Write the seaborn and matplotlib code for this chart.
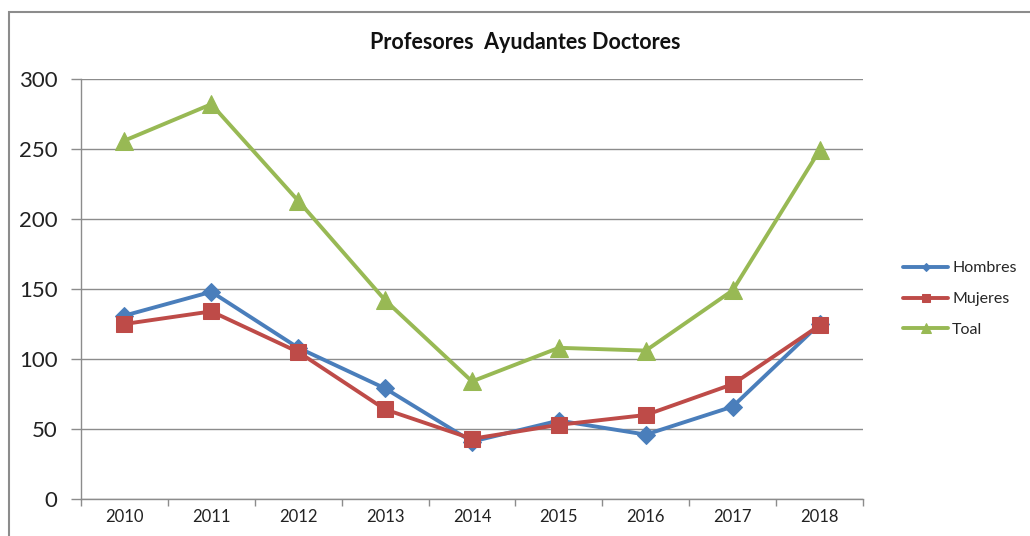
import matplotlib
matplotlib.use("Agg")
import matplotlib.pyplot as plt
import matplotlib.patches as mpatches
import numpy as np
import pandas as pd
import seaborn as sns

years = ["2010", "2011", "2012", "2013", "2014", "2015", "2016", "2017", "2018"]
hombres = [131, 148, 108, 79, 41, 56, 46, 66, 125]
mujeres = [125, 134, 105, 64, 43, 53, 60, 82, 124]
total = [256, 282, 213, 142, 84, 108, 106, 149, 249]
series_names = ["Hombres", "Mujeres", "Toal"]
colors = ["#4A7EBB", "#BE4B48", "#98B954"]
markers = ["D", "s", "^"]
marker_sizes = [9, 11, 13]

df = pd.DataFrame({
    "idx": list(range(len(years))) * 3,
    "valor": hombres + mujeres + total,
    "serie": [s for s in series_names for _ in years],
})

sns.set_theme(style="white")
plt.rcParams['font.family'] = ['Lato', 'DejaVu Sans']

fig = plt.figure(figsize=(10.30, 5.36), dpi=100)
ax = fig.add_axes([81 / 1030, 1 - 499 / 536, (863 - 81) / 1030, (499 - 79) / 536])

for name, c, m, ms in zip(series_names, colors, markers, marker_sizes):
    sns.lineplot(data=df[df["serie"] == name], x="idx", y="valor", ax=ax,
                 color=c, linewidth=2.8, marker=m, markersize=ms,
                 markeredgecolor=c, label=name)

ax.set_xlim(-0.5, len(years) - 0.5)
ax.set_ylim(0, 300)
ax.set_yticks(range(0, 301, 50))
ax.yaxis.grid(True, color="#8c8c8c", linewidth=1)
ax.set_axisbelow(True)
ax.set_xticks(np.arange(-0.5, len(years), 1))
ax.set_xticklabels([])
ax.set_xticks(range(len(years)), minor=True)
ax.set_xticklabels(years, minor=True, fontsize=12, color="#222222")
ax.tick_params(axis="x", which="major", length=5, color="#8c8c8c", width=1, direction="out", bottom=True)
ax.tick_params(axis="x", which="minor", length=0, pad=7)
ax.tick_params(axis="y", length=7, color="#8c8c8c", width=1, direction="out", left=True, labelsize=16, pad=10, labelcolor="#222222")
ax.set_xlabel("")
ax.set_ylabel("")
for s in ["top", "right"]:
    ax.spines[s].set_visible(False)
for s in ["left", "bottom"]:
    ax.spines[s].set_color("#8c8c8c")
    ax.spines[s].set_linewidth(1)

fig.text(525 / 1030, 1 - 42 / 536, "Profesores  Ayudantes Doctores", ha="center", va="center",
         fontsize=15.5, fontweight="bold", color="#111111")

ax.legend(loc="center left", bbox_to_anchor=(889 / 1030, 1 - 299 / 536), bbox_transform=fig.transFigure,
          frameon=False, fontsize=11.5, handlelength=2.8, labelspacing=1.05, handletextpad=0.25,
          markerscale=0.5)

fig.patches.append(mpatches.Rectangle((9 / 1030, -0.1), 1.1, 1 - 12 / 536 + 0.1,
                                      transform=fig.transFigure, fill=False,
                                      edgecolor="#8c8c8c", linewidth=1.5))

fig.savefig("out.png", dpi=100)
